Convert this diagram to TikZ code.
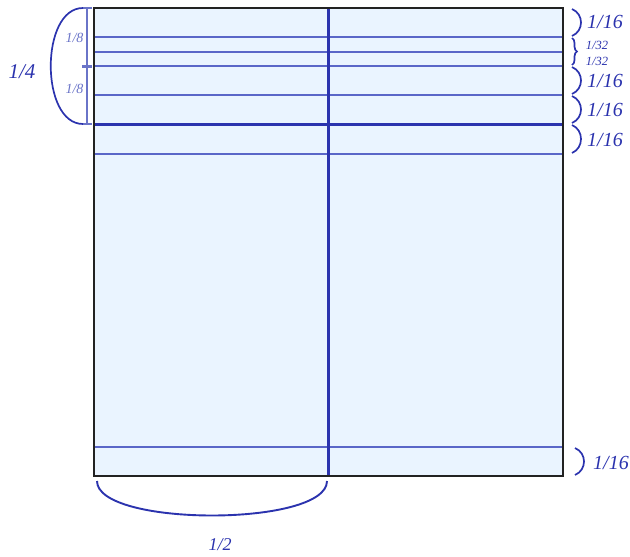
\documentclass[tikz,border=0pt]{standalone}
\usepackage{fontspec}
\setmainfont{Liberation Serif}
\usetikzlibrary{decorations.pathreplacing}
\definecolor{fillblue}{HTML}{EAF4FF}
\definecolor{midblue}{HTML}{5A66C8}
\definecolor{darkblue}{HTML}{2B33AE}
\definecolor{lightblue}{HTML}{6A74C8}
\definecolor{frame}{HTML}{222222}
\tikzset{
  gridline/.style={midblue, line width=2.2pt},
  thinline/.style={midblue, line width=1.5pt},
  heavyline/.style={darkblue, line width=3pt},
  paren/.style={darkblue, line width=1.7pt},
  big/.style={darkblue, font=\fontsize{20}{20}\selectfont\itshape},
  small/.style={darkblue, font=\fontsize{12.5}{12.5}\selectfont\itshape},
  eighth/.style={lightblue, font=\fontsize{14}{14}\selectfont\itshape},
}
\begin{document}
\begin{tikzpicture}[x=1pt,y=-1pt]
\useasboundingbox (0,0) rectangle (630,557);
% square corners
\coordinate (tl) at (94,8);
\coordinate (br) at (563,476);
\fill[fillblue] (tl) rectangle (br);
% horizontal lines
\foreach \y/\s in {37/gridline,52/thinline,66/gridline,95/gridline,154/gridline,447/gridline}
  \draw[\s] (94,\y) -- (563,\y);
\draw[heavyline] (94,124.5) -- (563,124.5);
\draw[darkblue, line width=2.6pt] (328.5,8) -- (328.5,476);
\draw[frame, line width=2.8pt] (tl) rectangle (br);

% left dimension
\coordinate (d1) at (87,8);
\coordinate (d2) at (87,66);
\coordinate (d3) at (87,124);
\draw[lightblue, line width=1.3pt] (d1) -- (d3);
\draw[lightblue, line width=1.8pt] (82,8) -- (92,8) (82,124) -- (92,124);
\draw[lightblue, line width=3pt] (82,66.5) -- (92,66.5);
\node[eighth, anchor=east] (e1) at (87,38) {1/8};
\node[eighth, anchor=east] (e2) at (87,89) {1/8};
\draw[paren, line width=1.7pt] (83,8) .. controls (40,8) and (40,124) .. (83,124);
\node[big, font=\fontsize{21}{21}\selectfont\itshape] (q) at (22,72) {1/4};

% right brackets
\foreach \a/\b in {9/36, 67/94, 96/123, 125/153}
  \draw[paren] (572,\a) .. controls (584,{\a+5}) and (584,{\b-5}) .. (572,\b);
\draw[paren] (575,448) .. controls (587,453) and (587,470) .. (575,475);
\draw[paren, decorate, decoration={brace, amplitude=5pt}] (572,38) -- (572,65);
\node[big] (s1) at (605,22) {1/16};
\node[small] (t1) at (597,45) {1/32};
\node[small] (t2) at (597,61) {1/32};
\node[big] (s2) at (605,81) {1/16};
\node[big] (s3) at (605,110) {1/16};
\node[big] (s4) at (605,140) {1/16};
\node[big] (s5) at (611,463) {1/16};

% bottom arc
\draw[paren, line width=1.9pt] (97,481) .. controls (97,527) and (327,527) .. (327,481);
\node[darkblue, font=\fontsize{18}{18}\selectfont\itshape] (h) at (220,545) {1/2};
\end{tikzpicture}
\end{document}
